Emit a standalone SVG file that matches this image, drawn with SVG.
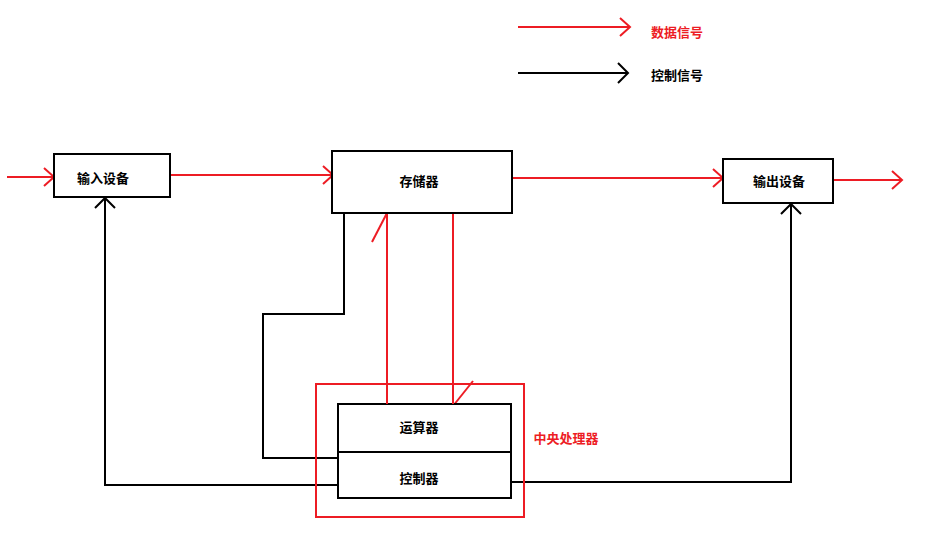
<svg xmlns="http://www.w3.org/2000/svg" width="931" height="545" viewBox="0 0 931 545">
<style>
.box{fill:#fff;stroke:#000;stroke-width:2}
.red{fill:none;stroke:#ed1c24;stroke-width:2}
.blk{fill:none;stroke:#000;stroke-width:2}
.t{font-family:"Noto Sans CJK SC","Noto Sans",sans-serif;font-size:13px;font-weight:bold;text-anchor:middle;dominant-baseline:central}
.tr{fill:#ed1c24}
</style>
<defs>
<marker id="ar" markerUnits="userSpaceOnUse" markerWidth="24" markerHeight="24" viewBox="-12 -12 24 24" refX="0" refY="0" orient="auto">
<path d="M-10,-9 L0,0 L-10,9" fill="none" stroke="#ed1c24" stroke-width="2"/>
</marker>
<marker id="ak" markerUnits="userSpaceOnUse" markerWidth="24" markerHeight="24" viewBox="-12 -12 24 24" refX="0" refY="0" orient="auto">
<path d="M-10,-10 L0,0 L-10,10" fill="none" stroke="#000" stroke-width="2"/>
</marker>
</defs>
<rect width="931" height="545" fill="#fff"/>

<g id="legend">
<line class="red" x1="518" y1="27" x2="630" y2="27" marker-end="url(#ar)"/>
<text class="t tr" x="677" y="31.5">数据信号</text>
<line class="blk" x1="518" y1="73" x2="628" y2="73" marker-end="url(#ak)"/>
<text class="t" x="677" y="74">控制信号</text>
</g>

<g id="connectors">
<line class="red" x1="7" y1="177" x2="54" y2="177" marker-end="url(#ar)"/>
<line class="red" x1="170" y1="175" x2="333" y2="175" marker-end="url(#ar)"/>
<line class="red" x1="512" y1="178" x2="723" y2="178" marker-end="url(#ar)"/>
<line class="red" x1="833" y1="180" x2="902" y2="180" marker-end="url(#ar)"/>
<line class="red" x1="387" y1="407" x2="387" y2="213"/>
<line class="red" x1="387" y1="213" x2="372" y2="242"/>
<line class="red" x1="453" y1="213" x2="453" y2="406"/>
<line class="red" x1="453" y1="406" x2="473" y2="381"/>
<polyline class="blk" points="344,213 344,314 263,314 263,458 340,458"/>
<polyline class="blk" points="340,485 105,485 105,198" marker-end="url(#ak)"/>
<polyline class="blk" points="511,482 791,482 791,204" marker-end="url(#ak)"/>
</g>

<g id="input">
<rect class="box" x="54" y="154" width="116" height="43"/>
<text class="t" x="103" y="177.5">输入设备</text>
</g>

<g id="memory">
<rect class="box" x="332" y="151" width="180" height="62"/>
<text class="t" x="419" y="180.5">存储器</text>
</g>

<g id="output">
<rect class="box" x="723" y="159" width="110" height="44"/>
<text class="t" x="779" y="180.5">输出设备</text>
</g>

<g id="cpu">
<rect class="red" x="316" y="384" width="208" height="133"/>
<text class="t tr" x="566" y="437">中央处理器</text>
</g>

<g id="alu">
<rect class="box" x="338" y="404" width="173" height="48"/>
<text class="t" x="419" y="426">运算器</text>
</g>

<g id="control">
<rect class="box" x="338" y="452" width="173" height="46"/>
<text class="t" x="419" y="477">控制器</text>
</g>

<line class="red" x1="387" y1="384" x2="387" y2="404"/>
<line class="red" x1="453" y1="384" x2="453" y2="404"/>
</svg>
